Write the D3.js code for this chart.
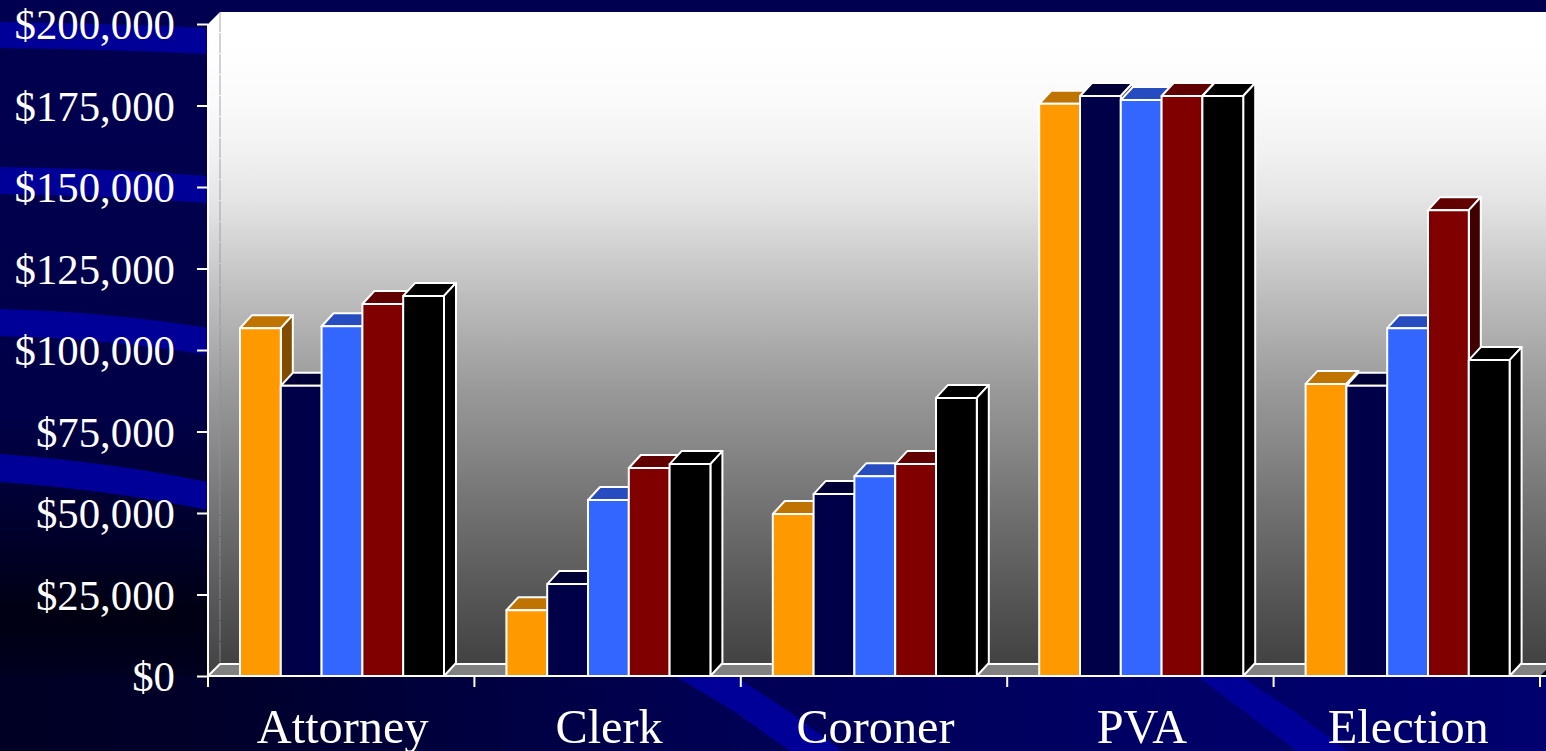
<!DOCTYPE html>
<html><head><meta charset="utf-8">
<script src="https://cdn.jsdelivr.net/npm/d3@7"></script>
<style>html,body{margin:0;padding:0;background:#000048;overflow:hidden}svg{display:block}</style>
</head><body><svg id="c" width="1546" height="751"></svg>
<script>
const categories = ["Attorney","Clerk","Coroner","PVA","Election"];
const seriesNames = ["s1","s2","s3","s4","s5"];
const frontColors = ["#ff9900","#000048","#3366ff","#800000","#000000"];
const topColors   = ["#bf7300","#000036","#264cbf","#600000","#000000"];
const sideColors  = ["#804d00","#000024","#1a3380","#400000","#000000"];
const s1 = [106700,20200,49700,175500,89600];
const s2 = [89000,28200,55800,177900,89000];
const s3 = [107300,54000,61300,176700,106700];
const s4 = [114100,63800,65000,177900,142900];
const s5 = [116600,65000,85300,177900,96900];
const seriesValues = [s1,s2,s3,s4,s5];
const yTicks = [0,25000,50000,75000,100000,125000,150000,175000,200000];

const W=1546,H=751,L=208,R=1540,T=24,B=676,WD=12,BDX=12,BDY=13;
const svg=d3.select("#c");
const defs=svg.append("defs");
function grad(id,vertical,stops){
  const g=defs.append("linearGradient").attr("id",id)
    .attr("x1",0).attr("y1",0).attr("x2",vertical?0:1).attr("y2",vertical?1:0);
  stops.forEach(([o,c])=>g.append("stop").attr("offset",o).attr("stop-color",c));
}
grad("bgLeft",true,[[0,"#000050"],[.55,"#000048"],[.72,"#00002a"],[.82,"#000012"],[.9,"#000020"],[1,"#00002c"]]);
grad("bgBottom",false,[[0,"#000024"],[.14,"#00002a"],[.45,"#000052"],[.8,"#000068"],[1,"#00006e"]]);
grad("wall",true,[[0,"#ffffff"],[.07,"#fefefe"],[.135,"#fafafa"],[.21,"#f2f2f2"],[.29,"#e4e4e4"],[.365,"#d0d0d0"],[.44,"#bcbcbc"],[.58,"#999999"],[.67,"#868686"],[.75,"#747474"],[.9,"#555555"],[1,"#424242"]]);

// background
svg.append("rect").attr("width",W).attr("height",H).attr("fill","url(#bgLeft)");
svg.append("rect").attr("y",B).attr("width",W).attr("height",H-B).attr("fill","url(#bgBottom)");

// decorative swooshes
const swoosh="#000099";
const band=(x0,y0,x1,y1,x2,y2,th)=>{
  const p=d3.path();
  p.moveTo(x0,y0);p.quadraticCurveTo(x1,y1,x2,y2);p.lineTo(x2,y2+th);p.quadraticCurveTo(x1,y1+th,x0,y0+th);p.closePath();
  return p.toString();
};
[[0,22,100,23,208,28,26],[0,167,100,168,208,176,27],[0,309,110,312,208,328,27],[0,454,110,462,208,482,28]]
 .forEach(b=>svg.append("path").attr("d",band(...b)).attr("fill",swoosh));
const diag=(pts)=>svg.append("path").attr("d",d3.line()(pts)+"Z").attr("fill",swoosh);
diag([[675,676],[735,676],[790,712],[842,751],[790,751],[735,712]]);
diag([[1197,676],[1240,676],[1295,712],[1347,751],[1297,751],[1245,712]]);

// scales
const x0=d3.scaleBand().domain(categories).range([L,R]);
const x1=d3.scaleBand().domain(seriesNames).range([32,236]);
const y=d3.scaleLinear().domain([0,200000]).range([B,T]);

// walls
const wh="#ffffff";
svg.append("rect").attr("x",L+WD).attr("y",T-WD).attr("width",W-L).attr("height",B-T).attr("fill","url(#wall)");
svg.append("path").attr("d",d3.line()([[L,T],[L+WD,T-WD],[L+WD,B-WD],[L,B]])+"Z").attr("fill","url(#wall)");
svg.append("line").attr("x1",L).attr("x2",L).attr("y1",T).attr("y2",B).attr("stroke",wh).attr("stroke-width",2);
svg.append("line").attr("x1",L+WD).attr("x2",L+WD).attr("y1",T-WD).attr("y2",B-WD).attr("stroke","#9090a8").attr("stroke-width",1).attr("stroke-dasharray","20 1").attr("opacity",.8);
// floor
svg.append("path").attr("d",d3.line()([[L,B],[L+WD,B-WD],[R+WD,B-WD],[R,B]])+"Z").attr("fill","#808080");
svg.append("path").attr("d",d3.line()([[L,B],[L+WD,B-WD],[R+WD,B-WD]])).attr("fill","none").attr("stroke",wh).attr("stroke-width",2);

// bars
const face=(pts,fill)=>({pts,fill});
const gCat=svg.append("g").selectAll("g").data(categories).join("g").attr("transform",d=>`translate(${x0(d)},0)`);
gCat.each(function(cat,ci){
  const g=d3.select(this);
  seriesNames.forEach((s,si)=>{
    const v=seriesValues[si][ci],xa=x1(s),xb=xa+x1.bandwidth(),yt=y(v);
    const faces=[
      face([[xa,yt],[xa+BDX,yt-BDY],[xb+BDX,yt-BDY],[xb,yt]],topColors[si]),
      face([[xb,yt],[xb+BDX,yt-BDY],[xb+BDX,B-BDY],[xb,B]],sideColors[si]),
      face([[xa,yt],[xb,yt],[xb,B],[xa,B]],frontColors[si])
    ];
    g.selectAll(null).data(faces).join("path")
      .attr("d",f=>d3.line()(f.pts)+"Z").attr("fill",f=>f.fill)
      .attr("stroke",wh).attr("stroke-width",2).attr("stroke-linejoin","round");
  });
});

// axes
const fontF='"Liberation Serif","Times New Roman",serif';
const yAxis=d3.axisLeft(y).tickValues(yTicks).tickFormat(d3.format("$,")).tickSize(11).tickPadding(22);
const ga=svg.append("g").attr("transform",`translate(${L},0)`).call(yAxis);
ga.selectAll(".domain").remove();
ga.selectAll("line").attr("stroke",wh).attr("stroke-width",2);
ga.selectAll("text").attr("fill",wh).attr("font-family",fontF).attr("font-size",42.8).attr("dy",14.5).attr("x",-33);

const xg=svg.append("g");
xg.append("line").attr("x1",L).attr("x2",W).attr("y1",B).attr("y2",B).attr("stroke",wh).attr("stroke-width",2);
const xAxis=d3.axisBottom(x0).tickSize(0).tickPadding(0);
const gx=svg.append("g").attr("transform",`translate(0,${B})`).call(xAxis);
gx.selectAll(".domain").remove();
gx.selectAll("text").attr("fill",wh).attr("font-family",fontF).attr("font-size",48.3).attr("y",67).attr("dy",0).attr("dx",1.5);
svg.append("g").selectAll("line").data(d3.range(categories.length+1)).join("line")
  .attr("x1",i=>L+i*x0.step()).attr("x2",i=>L+i*x0.step()).attr("y1",B).attr("y2",B+11)
  .attr("stroke",wh).attr("stroke-width",2);
</script></body></html>
